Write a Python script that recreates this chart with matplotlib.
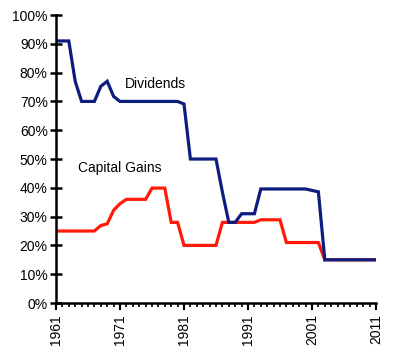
import matplotlib.pyplot as plt
from matplotlib.ticker import MultipleLocator, PercentFormatter

years = list(range(1961, 2012))
year_ticks = [1961, 1971, 1981, 1991, 2001, 2011]

# top federal tax rates, percent
dividends = [91, 91, 91, 77, 70, 70, 70, 75.25, 77, 71.75,
             70, 70, 70, 70, 70, 70, 70, 70, 70, 70,
             69.1, 50, 50, 50, 50, 50, 38.5, 28, 28, 31,
             31, 31, 39.6, 39.6, 39.6, 39.6, 39.6, 39.6, 39.6, 39.6,
             39.1, 38.6, 15, 15, 15, 15, 15, 15, 15, 15,
             15]
capital_gains = [25, 25, 25, 25, 25, 25, 25, 26.9, 27.5, 32.2,
                 34.5, 36, 36, 36, 36, 39.9, 39.9, 39.9, 28, 28,
                 20, 20, 20, 20, 20, 20, 28, 28, 28, 28,
                 28, 28, 28.9, 28.9, 28.9, 28.9, 21, 21, 21, 21,
                 21, 21, 15, 15, 15, 15, 15, 15, 15, 15,
                 15]

plt.rcParams['font.family'] = ['Liberation Sans', 'DejaVu Sans']

fig = plt.figure(figsize=(4, 3.58), dpi=100)
ax = fig.add_axes([0.14, 0.1536, 0.80, 0.8044])

ax.plot(years, capital_gains, color='#ff1a0a', lw=2.3, solid_joinstyle='miter')
ax.plot(years, dividends, color='#0c1d7e', lw=2.3, solid_joinstyle='miter')

ax.set_xlim(1961, 2011)
ax.set_ylim(0, 100)

ax.yaxis.set_major_locator(MultipleLocator(10))
ax.yaxis.set_major_formatter(PercentFormatter(decimals=0))
ax.set_xticks(year_ticks)
ax.set_xticks(years, minor=True)

for s in ['top', 'right']:
    ax.spines[s].set_visible(False)
for s in ['left', 'bottom']:
    ax.spines[s].set_linewidth(1.8)

ax.tick_params(axis='y', direction='inout', length=8, width=1.8, labelsize=10, pad=2)
ax.tick_params(axis='x', which='major', direction='out', length=5, width=1.5,
               labelsize=10, labelrotation=90, pad=3)
ax.tick_params(axis='x', which='minor', direction='out', length=3, width=1.2)

ax.text(1976.5, 76, 'Dividends', fontsize=10, ha='center', va='center')
ax.text(1971, 47, 'Capital Gains', fontsize=10, ha='center', va='center')

fig.savefig('out.png', dpi=100)
